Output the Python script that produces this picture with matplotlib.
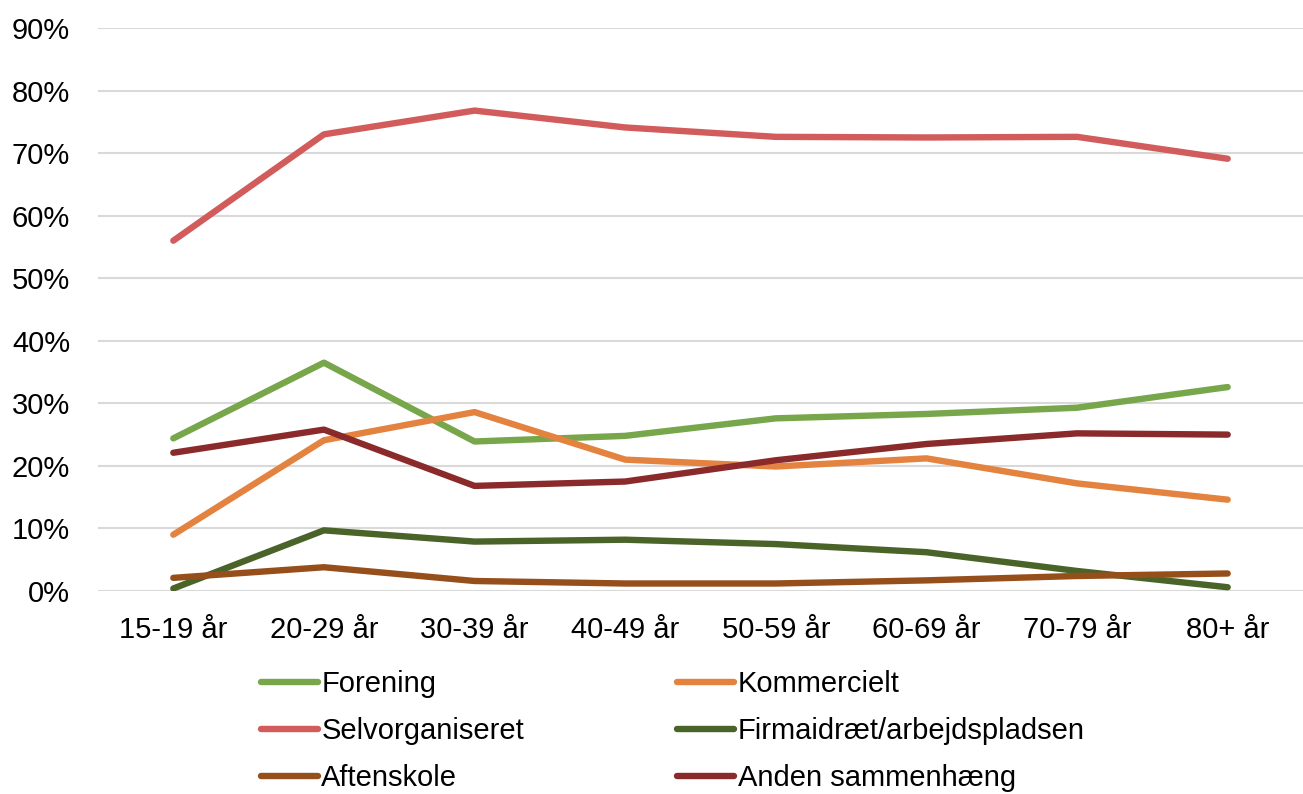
import matplotlib.pyplot as plt
from matplotlib.ticker import PercentFormatter

plt.rcParams['font.family'] = ['Liberation Sans', 'DejaVu Sans']

# age groups on the x axis
age_groups = ['15-19 år', '20-29 år', '30-39 år', '40-49 år',
              '50-59 år', '60-69 år', '70-79 år', '80+ år']

# share (%) of each organisational form per age group
forening = [24.4, 36.5, 23.9, 24.8, 27.6, 28.3, 29.3, 32.6]
kommercielt = [9.0, 24.1, 28.6, 21.0, 19.9, 21.2, 17.2, 14.6]
selvorganiseret = [56.0, 73.0, 76.8, 74.1, 72.6, 72.5, 72.6, 69.1]
firmaidraet = [0.4, 9.7, 7.9, 8.2, 7.5, 6.2, 3.2, 0.6]
aftenskole = [2.1, 3.8, 1.6, 1.2, 1.2, 1.7, 2.4, 2.8]
anden = [22.1, 25.8, 16.8, 17.5, 20.9, 23.5, 25.2, 25.0]

series = [
    ('Forening', forening, '#78A64B'),
    ('Kommercielt', kommercielt, '#E3833F'),
    ('Selvorganiseret', selvorganiseret, '#D25B5B'),
    ('Firmaidræt/arbejdspladsen', firmaidraet, '#4A6329'),
    ('Aftenskole', aftenskole, '#964F1B'),
    ('Anden sammenhæng', anden, '#8B2A2B'),
]

fig = plt.figure(figsize=(13.03, 7.94), dpi=100)
ax = fig.add_axes([98 / 1303, 1 - 591 / 794, 1 - 98 / 1303, (591 - 28) / 794])

x = range(len(age_groups))
lines = []
for name, vals, color in series:
    ln, = ax.plot(x, vals, color=color, lw=4.6, label=name,
                  solid_capstyle='round', solid_joinstyle='round')
    lines.append(ln)

ax.set_xlim(-0.5, len(age_groups) - 0.5)
ax.set_ylim(0, 90)
ax.set_yticks(range(0, 91, 10))
ax.yaxis.set_major_formatter(PercentFormatter(decimals=0))
ax.set_xticks(list(x))
ax.set_xticklabels(age_groups)
ax.tick_params(axis='both', length=0, labelsize=21)
ax.tick_params(axis='x', pad=18)
ax.tick_params(axis='y', pad=20)

ax.grid(axis='y', color='#D9D9D9', lw=1.5)
ax.set_axisbelow(True)
for s in ax.spines.values():
    s.set_visible(False)

# legend fills row by row in the original, matplotlib fills column-wise
order = [0, 2, 4, 1, 3, 5]
ax.legend([lines[i] for i in order], [series[i][0] for i in order],
          ncol=2, loc='upper left', bbox_to_anchor=(261 / 1303, 1 - 670 / 794),
          bbox_transform=fig.transFigure, frameon=False, fontsize=21,
          handlelength=1.95, handletextpad=0.12, columnspacing=5.25,
          labelspacing=0.66, borderpad=0, borderaxespad=0)

fig.savefig('out.png', dpi=100)
